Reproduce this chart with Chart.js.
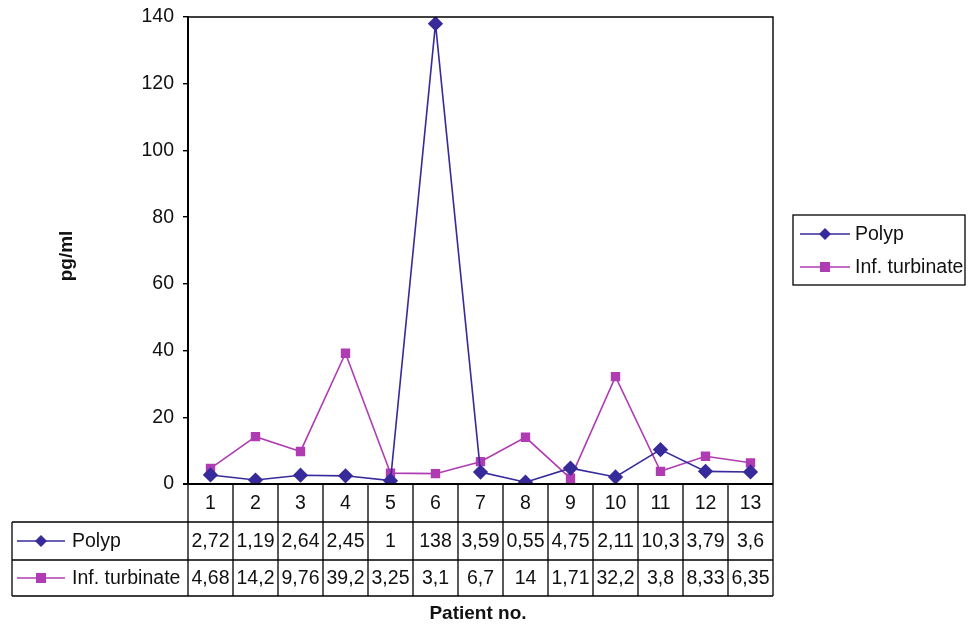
<!DOCTYPE html>
<html>
<head>
<meta charset="utf-8">
<script src="https://cdn.jsdelivr.net/npm/chart.js@4/dist/chart.umd.min.js"></script>
<style>
  html, body { margin: 0; padding: 0; background: #fff; }
  #wrap { width: 978px; height: 625px; position: relative; }
</style>
</head>
<body>
<div id="wrap"><canvas id="c" width="978" height="625"></canvas></div>
<script>
// Patient numbers and measured concentrations (pg/ml)
const patients = ['1','2','3','4','5','6','7','8','9','10','11','12','13'];
const polyp = [2.72, 1.19, 2.64, 2.45, 1, 138, 3.59, 0.55, 4.75, 2.11, 10.3, 3.79, 3.6];
const turbinate = [4.68, 14.2, 9.76, 39.2, 3.25, 3.1, 6.7, 14, 1.71, 32.2, 3.8, 8.33, 6.35];
const seriesNames = ['Polyp', 'Inf. turbinate'];
const yTicks = [0, 20, 40, 60, 80, 100, 120, 140];

const POLYP_COLOR = '#372a9b';
const TURB_COLOR = '#b03cb3';
const FONT = '"Liberation Sans", Arial, sans-serif';
const TEXT_SIZE = 19.5;

const fmt = v => String(v).replace('.', ',');

function drawMarker(ctx, style, x, y, color) {
  ctx.save();
  ctx.fillStyle = color;
  ctx.beginPath();
  if (style === 'rectRot') {
    const r = 6;
    ctx.moveTo(x, y - r); ctx.lineTo(x + r, y); ctx.lineTo(x, y + r); ctx.lineTo(x - r, y);
    ctx.closePath();
  } else {
    const s = 5;
    ctx.rect(x - s, y - s, 2 * s, 2 * s);
  }
  ctx.fill();
  ctx.restore();
}

function drawKey(ctx, x0, x1, y, style, color) {
  ctx.save();
  ctx.strokeStyle = color;
  ctx.lineWidth = 1.6;
  ctx.beginPath(); ctx.moveTo(x0, y); ctx.lineTo(x1, y); ctx.stroke();
  ctx.restore();
  drawMarker(ctx, style, (x0 + x1) / 2, y, color);
}

// Frame, data table, legend box and axis titles
const extras = {
  id: 'extras',
  afterDraw(chart) {
    const ctx = chart.ctx;
    const a = chart.chartArea;
    const xs = chart.scales.x;
    const step = a.width / patients.length;
    const rowTop = a.bottom, r1 = a.bottom + 38, r2 = r1 + 38, r3 = r2 + 36;
    const tableLeft = 12;

    ctx.save();
    ctx.strokeStyle = '#000';
    ctx.lineWidth = 1.4;
    // plot frame (top and right; left axis and base drawn heavier)
    ctx.beginPath();
    ctx.moveTo(a.left, a.top); ctx.lineTo(a.right, a.top); ctx.lineTo(a.right, a.bottom);
    ctx.stroke();
    ctx.lineWidth = 2;
    ctx.beginPath();
    ctx.moveTo(a.left - 5, a.bottom); ctx.lineTo(a.right, a.bottom);
    ctx.stroke();

    // table grid
    ctx.lineWidth = 1.3;
    ctx.beginPath();
    ctx.moveTo(tableLeft, r1); ctx.lineTo(a.right, r1);
    ctx.moveTo(tableLeft, r2); ctx.lineTo(a.right, r2);
    ctx.moveTo(tableLeft, r3); ctx.lineTo(a.right, r3);
    ctx.moveTo(tableLeft, r1); ctx.lineTo(tableLeft, r3);
    for (let i = 0; i <= patients.length; i++) {
      const x = a.left + i * step;
      ctx.moveTo(x, rowTop); ctx.lineTo(x, r3);
    }
    ctx.stroke();

    ctx.fillStyle = '#111';
    ctx.font = TEXT_SIZE + 'px ' + FONT;
    ctx.textAlign = 'center';
    ctx.textBaseline = 'middle';
    patients.forEach((p, i) => {
      const cx = xs.getPixelForValue(i);
      ctx.fillText(p, cx, (rowTop + r1) / 2 + 1);
      ctx.fillText(fmt(polyp[i]), cx, (r1 + r2) / 2 + 1);
      ctx.fillText(fmt(turbinate[i]), cx, (r2 + r3) / 2 + 1);
    });

    // row headers
    drawKey(ctx, 17, 65, (r1 + r2) / 2, 'rectRot', POLYP_COLOR);
    drawKey(ctx, 17, 65, (r2 + r3) / 2, 'rect', TURB_COLOR);
    ctx.fillStyle = '#111';
    ctx.textAlign = 'left';
    ctx.fillText(seriesNames[0], 72, (r1 + r2) / 2 + 1);
    ctx.fillText(seriesNames[1], 72, (r2 + r3) / 2 + 1);

    // legend box
    ctx.strokeStyle = '#000';
    ctx.lineWidth = 1.3;
    ctx.strokeRect(793, 215, 172, 70);
    drawKey(ctx, 800, 850, 234, 'rectRot', POLYP_COLOR);
    drawKey(ctx, 800, 850, 267, 'rect', TURB_COLOR);
    ctx.fillStyle = '#111';
    ctx.fillText(seriesNames[0], 855, 235);
    ctx.fillText(seriesNames[1], 855, 268);

    // axis titles
    ctx.font = 'bold 19px ' + FONT;
    ctx.textAlign = 'center';
    ctx.fillText('Patient no.', 478, 614);
    ctx.save();
    ctx.translate(67, 256);
    ctx.rotate(-Math.PI / 2);
    ctx.fillText('pg/ml', 0, 0);
    ctx.restore();
    ctx.restore();
  }
};

new Chart(document.getElementById('c'), {
  type: 'line',
  data: {
    labels: patients,
    datasets: [
      {
        label: seriesNames[0], data: polyp,
        borderColor: POLYP_COLOR, backgroundColor: POLYP_COLOR,
        borderWidth: 1.6, pointStyle: 'rectRot', pointRadius: 6.5, pointHoverRadius: 6.5,
        tension: 0
      },
      {
        label: seriesNames[1], data: turbinate,
        borderColor: TURB_COLOR, backgroundColor: TURB_COLOR,
        borderWidth: 1.6, pointStyle: 'rect', pointRadius: 5.5, pointHoverRadius: 5.5,
        tension: 0
      }
    ]
  },
  options: {
    responsive: false,
    animation: false,
    layout: { padding: { left: 0, top: 17, right: 205, bottom: 141 } },
    plugins: { legend: { display: false }, tooltip: { enabled: false } },
    scales: {
      x: {
        offset: true,
        ticks: { display: false },
        grid: { display: false, drawTicks: false },
        border: { display: false },
        afterFit(s) { s.height = 0; }
      },
      y: {
        min: 0, max: 140,
        afterBuildTicks(s) { s.ticks = yTicks.map(v => ({ value: v })); },
        ticks: { color: '#111', font: { size: TEXT_SIZE, family: FONT }, padding: 9 },
        grid: { drawOnChartArea: false, drawTicks: true, tickLength: 5, color: '#000', lineWidth: 1.4 },
        border: { display: true, color: '#000', width: 2 },
        afterFit(s) { s.width = 188; s.paddingTop = 0; s.paddingBottom = 0; }
      }
    }
  },
  plugins: [extras]
});
</script>
</body>
</html>
